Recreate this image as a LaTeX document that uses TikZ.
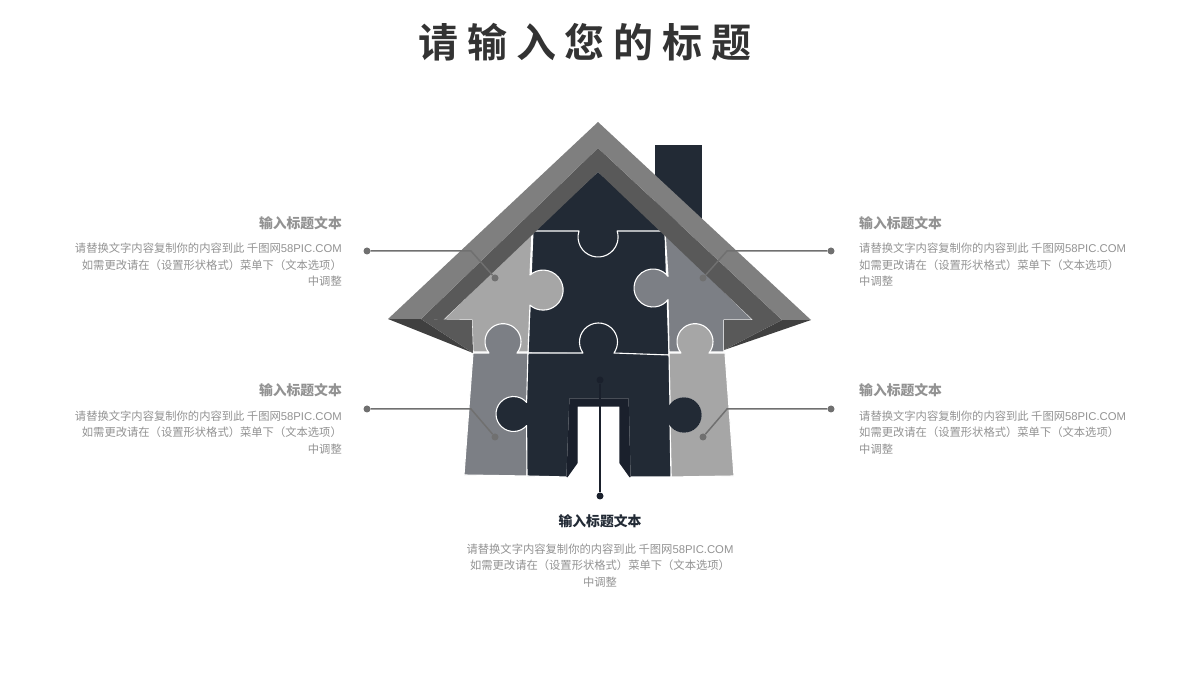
\documentclass[tikz,border=0pt]{standalone}
\usepackage{fontspec}
\setmainfont{Noto Sans CJK SC}
\newfontfamily\titlefont[LetterSpace=22]{Noto Sans CJK SC Bold}
\newfontfamily\latinfont{Liberation Sans}
\definecolor{darkcol}{HTML}{222A35}
\definecolor{framecol}{HTML}{1A202C}
\definecolor{greycol}{HTML}{7C7F85}
\definecolor{lightcol}{HTML}{A6A6A6}
\definecolor{bandcol}{HTML}{7F7F7F}
\definecolor{midcol}{HTML}{595959}
\definecolor{wedgecol}{HTML}{404040}
\definecolor{linecol}{HTML}{707070}
\definecolor{textcol}{HTML}{929292}
\newcommand{\bodytext}{请替换文字内容复制你的内容到此 千图网{\latinfont 58PIC.COM}\\如需更改请在（设置形状格式）菜单下（文本选项）\\中调整}
\tikzset{
  piece/.style={draw=white, line width=1.1pt, line join=round},
  flat/.style={draw=none},
  headleft/.style={anchor=east, text=textcol, font=\bfseries\fontsize{13.8}{16}\selectfont, inner sep=0pt},
  headright/.style={anchor=west, text=textcol, font=\bfseries\fontsize{13.8}{16}\selectfont, inner sep=0pt},
  bodyleft/.style={anchor=east, align=right, text=textcol, font=\fontsize{11.3}{16.5}\selectfont, inner sep=0pt},
  bodyright/.style={anchor=west, align=left, text=textcol, font=\fontsize{11.3}{16.5}\selectfont, inner sep=0pt},
  dot/.style={circle, fill=linecol, inner sep=0pt, minimum size=7pt},
  darkdot/.style={circle, fill=framecol, inner sep=0pt, minimum size=7pt},
  leader/.style={draw=linecol, line width=1.5pt},
}

\begin{document}
\begin{tikzpicture}[x=1pt, y=1pt]

    \useasboundingbox (0, 0) rectangle (1200, 675);

    \node[text=black!80, font=\titlefont\fontsize{40}{50}\selectfont, inner sep=0pt] (title) at (585, 633) {请输入您的标题};

    % chimney and top of the wall
    \draw[fill=darkcol, flat] (655, 530) rectangle (702, 452);
    \draw[fill=darkcol, flat] (598, 503) -- (530, 440) -- (668, 440) -- cycle;
    \draw[fill=darkcol, flat] (570, 412) rectangle (626, 446);

    % centre piece
    \draw[fill=darkcol, piece] (533, 444) -- (579, 444) arc[start angle=162.5, end angle=377.5, radius=20] -- (665, 444) -- (669, 320) -- (528, 322) -- cycle;

    % upper side pieces
    \draw[fill=lightcol, piece] (532, 443) -- (530, 400) arc[start angle=131, end angle=-131, radius=20] -- (528, 323) -- (473, 323) -- (472, 355) -- (443, 355) -- cycle;
    \draw[fill=greycol, piece] (665, 443) -- (753, 355) -- (724, 355) -- (724, 323) -- (669, 323) -- (668, 375.3) arc[start angle=-38, end angle=-322, radius=19] -- cycle;

    % lower side pieces
    \draw[fill=greycol, piece] (473, 322) -- (489, 322) arc[start angle=219, end angle=-39, radius=18] -- (528, 322) -- (527, 199) -- (464, 200) -- cycle;
    \draw[fill=lightcol, piece] (669, 322) -- (681, 322) arc[start angle=219, end angle=-39, radius=18] -- (725, 322) -- (734, 199) -- (671, 198) -- cycle;

    % lower centre piece with door
    \draw[fill=darkcol, piece] (528, 322) -- (583, 322) arc[start angle=215.4, end angle=-35.4, radius=19] -- (669, 320) -- (670, 269.6) arc[start angle=145.6, end angle=-145.6, radius=17] -- (671, 198) -- (630, 198) -- (628, 276) -- (570, 276) -- (567, 198) -- (527, 199) -- (526.6, 249.4) arc[start angle=-41.6, end angle=-318.4, radius=17.5] -- cycle;
    \draw[fill=darkcol, flat] (684, 260) circle (17.7);
    \draw[fill=framecol, draw=framecol, line width=1.1pt, line join=bevel] (570, 276) -- (628, 276) -- (630, 198) -- (620, 212) -- (620, 269) -- (577, 269) -- (577, 212) -- (567, 198) -- cycle;

    % roof
    \draw[fill=wedgecol, flat] (388, 356) -- (421, 356) -- (473, 322) -- cycle;
    \draw[fill=midcol, flat] (421, 356) -- (472, 355) -- (473, 322) -- cycle;
    \draw[fill=wedgecol, flat] (811, 355) -- (782, 355) -- (724, 325) -- cycle;
    \draw[fill=midcol, flat] (782, 355) -- (724, 355) -- (724, 325) -- cycle;
    \draw[fill=midcol, flat] (421, 356) -- (598, 527) -- (782, 355) -- (753, 355) -- (598, 503) -- (443, 355) -- cycle;
    \draw[fill=bandcol, flat] (388, 356) -- (598, 553) -- (811, 355) -- (782, 355) -- (598, 527) -- (421, 356) -- cycle;

    % leaders
    \node[dot] (ula) at (367, 424) {};
    \node[dot] (ulb) at (495, 397) {};
    \coordinate (ulc) at (471, 424);
    \draw[leader] (ula) -- (ulc) -- (ulb);

    \node[dot] (ura) at (831, 424) {};
    \node[dot] (urb) at (703, 397) {};
    \coordinate (urc) at (727, 424);
    \draw[leader] (ura) -- (urc) -- (urb);

    \node[dot] (lla) at (367, 266) {};
    \node[dot] (llb) at (495, 238) {};
    \coordinate (llc) at (471, 266);
    \draw[leader] (lla) -- (llc) -- (llb);

    \node[dot] (lra) at (831, 266) {};
    \node[dot] (lrb) at (703, 238) {};
    \coordinate (lrc) at (727, 266);
    \draw[leader] (lra) -- (lrc) -- (lrb);

    \node[darkdot] (ca) at (600, 295) {};
    \node[darkdot] (cb) at (600, 179) {};
    \draw[draw=framecol, line width=1.5pt] (ca) -- (cb);

    % texts
    \node[headleft] (ulh) at (342, 452) {输入标题文本};
    \node[bodyleft] (ult) at (342, 410) {\bodytext};
    \node[headright] (urh) at (859, 452) {输入标题文本};
    \node[bodyright] (urt) at (859, 410) {\bodytext};
    \node[headleft] (llh) at (342, 285) {输入标题文本};
    \node[bodyleft] (llt) at (342, 242.5) {\bodytext};
    \node[headright] (lrh) at (859, 285) {输入标题文本};
    \node[bodyright] (lrt) at (859, 242.5) {\bodytext};
    \node[text=darkcol, font=\bfseries\fontsize{13.8}{16}\selectfont, inner sep=0pt] (ch) at (600, 154) {输入标题文本};
    \node[align=center, text=textcol, font=\fontsize{11.3}{16.5}\selectfont, inner sep=0pt] (ct) at (600, 109.5) {\bodytext};

\end{tikzpicture}
\end{document}
